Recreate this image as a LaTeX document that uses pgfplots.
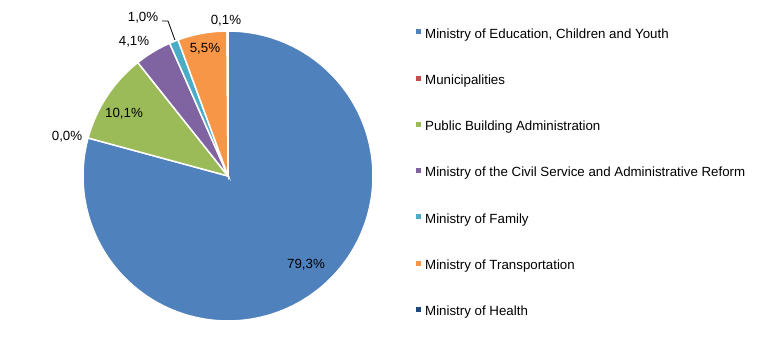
\documentclass[border=0pt]{standalone}
\usepackage{fontspec}
\setmainfont{Liberation Sans}
\usepackage{pgfplots}
\pgfplotsset{compat=1.18}

\definecolor{cEdu}{HTML}{4F81BD}
\definecolor{cMun}{HTML}{C0504D}
\definecolor{cPub}{HTML}{9BBB59}
\definecolor{cCiv}{HTML}{8064A2}
\definecolor{cFam}{HTML}{4BACC6}
\definecolor{cTra}{HTML}{F79646}
\definecolor{cHea}{HTML}{1F497D}

% shares in percent (clockwise from 12 o'clock)
\def\vEdu{79.3}
\def\vMun{0.0}
\def\vPub{10.1}
\def\vCiv{4.1}
\def\vFam{1.0}
\def\vTra{5.5}
\def\vHea{0.1}
\pgfmathsetmacro\tot{\vEdu+\vMun+\vPub+\vCiv+\vFam+\vTra+\vHea}
\pgfmathsetmacro\k{360/\tot}
\pgfmathsetmacro\aA{90}
\pgfmathsetmacro\aB{\aA-\vEdu*\k}
\pgfmathsetmacro\aC{\aB-\vMun*\k}
\pgfmathsetmacro\aD{\aC-\vPub*\k}
\pgfmathsetmacro\aE{\aD-\vCiv*\k}
\pgfmathsetmacro\aF{\aE-\vFam*\k}
\pgfmathsetmacro\aG{\aF-\vTra*\k}
\pgfmathsetmacro\aH{\aG-\vHea*\k}

\begin{document}
\begin{tikzpicture}[font=\fontsize{13.3bp}{16bp}\selectfont]
\begin{axis}[
  x=145bp, y=145bp,
  xmin=-1.5724, xmax=3.7172, ymin=-1.2069, ymax=1.2138,
  hide axis, clip=false,
  legend cell align=left,
  legend image code/.code={\fill[#1,draw=none] (0bp,-1.0bp) rectangle (5bp,4.0bp);},
  legend style={draw=none, fill=none, at={(axis cs:1.276,1.032)}, anchor=north west,
    row sep=36.77bp, column sep=4bp,
    nodes={inner sep=0pt, text height=9.5bp, text depth=0pt,
      font=\fontsize{13.3bp}{16bp}\selectfont}},
  slice/.style={draw=white, line width=1.5bp, variable=\t},
]
\addplot[slice, fill=cEdu, domain=\aB:\aA, samples=240] ({cos(\t)},{sin(\t)}) -- (axis cs:0,0) -- cycle;
\addlegendentry{Ministry of Education, Children and Youth}
\addlegendimage{fill=cMun}
\addlegendentry{Municipalities}
\addplot[slice, fill=cPub, domain=\aD:\aC, samples=40] ({cos(\t)},{sin(\t)}) -- (axis cs:0,0) -- cycle;
\addlegendentry{Public Building Administration}
\addplot[slice, fill=cCiv, domain=\aE:\aD, samples=20] ({cos(\t)},{sin(\t)}) -- (axis cs:0,0) -- cycle;
\addlegendentry{Ministry of the Civil Service and Administrative Reform}
\addplot[slice, fill=cFam, domain=\aF:\aE, samples=6] ({cos(\t)},{sin(\t)}) -- (axis cs:0,0) -- cycle;
\addlegendentry{Ministry of Family}
\addplot[slice, fill=cTra, domain=\aG:\aF, samples=24] ({cos(\t)},{sin(\t)}) -- (axis cs:0,0) -- cycle;
\addlegendentry{Ministry of Transportation}
\addplot[slice, fill=cHea, domain=\aH:\aG, samples=3] ({cos(\t)},{sin(\t)}) -- (axis cs:0,0) -- cycle;
\addlegendentry{Ministry of Health}

\path (rel axis cs:0,0) rectangle (rel axis cs:1,1);
\draw[black, line width=0.8bp] (axis cs:-0.455,1.069) -- (axis cs:-0.414,1.069) -- (axis cs:-0.366,0.938);
\node at (axis cs:0.538,-0.614) {79,3\%};
\node at (axis cs:-1.110,0.269) {0,0\%};
\node at (axis cs:-0.717,0.428) {10,1\%};
\node at (axis cs:-0.648,0.924) {4,1\%};
\node at (axis cs:-0.586,1.090) {1,0\%};
\node at (axis cs:-0.159,0.876) {5,5\%};
\node at (axis cs:-0.014,1.069) {0,1\%};
\end{axis}
\end{tikzpicture}
\end{document}
